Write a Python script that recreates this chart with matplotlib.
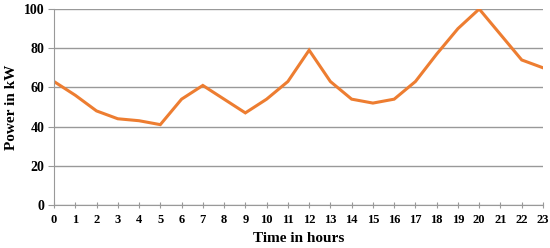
import matplotlib.pyplot as plt

# hourly power profile
hours = list(range(24))
power = [63, 56, 48, 44, 43, 41, 54, 61, 54, 47, 54, 63,
         79, 63, 54, 52, 54, 63, 77, 90, 100, 87, 74, 70]
y_ticks = [0, 20, 40, 60, 80, 100]

plt.rcParams['font.family'] = ['Liberation Serif', 'DejaVu Serif']
plt.rcParams['font.weight'] = 'bold'

fig = plt.figure(figsize=(5.5, 2.48), dpi=100)
ax = fig.add_axes([54 / 550, 1 - 205 / 248, (543 - 54) / 550, (205 - 9) / 248])

ax.plot(hours, power, color='#ED7D31', linewidth=2.2, solid_joinstyle='miter')

ax.set_xlim(0, 23)
ax.set_ylim(0, 100)
ax.set_xticks(hours)
ax.set_yticks(y_ticks)
ax.yaxis.grid(True, color='#999999', linewidth=1)
ax.set_axisbelow(True)

for side in ['top', 'right']:
    ax.spines[side].set_visible(False)
ax.spines['left'].set_color('#999999')
ax.spines['bottom'].set_color('#999999')

ax.tick_params(axis='x', direction='inout', length=5, color='#999999',
               labelsize=9, pad=4)
ax.tick_params(axis='y', direction='out', length=4, color='#999999',
               labelsize=10, pad=3)
for lbl in ax.get_xticklabels() + ax.get_yticklabels():
    lbl.set_fontweight('bold')

ax.set_xlabel('Time in hours', fontsize=11, fontweight='bold')
ax.set_ylabel('Power in kW', fontsize=11, fontweight='bold')
ax.xaxis.set_label_coords(0.5, (205 - 239) / 196, transform=ax.transAxes)
ax.yaxis.set_label_coords((12 - 54) / 489, 0.5, transform=ax.transAxes)
ax.xaxis.label.set_va('center')
ax.yaxis.label.set_va('center')

fig.savefig('out.png', dpi=100)
